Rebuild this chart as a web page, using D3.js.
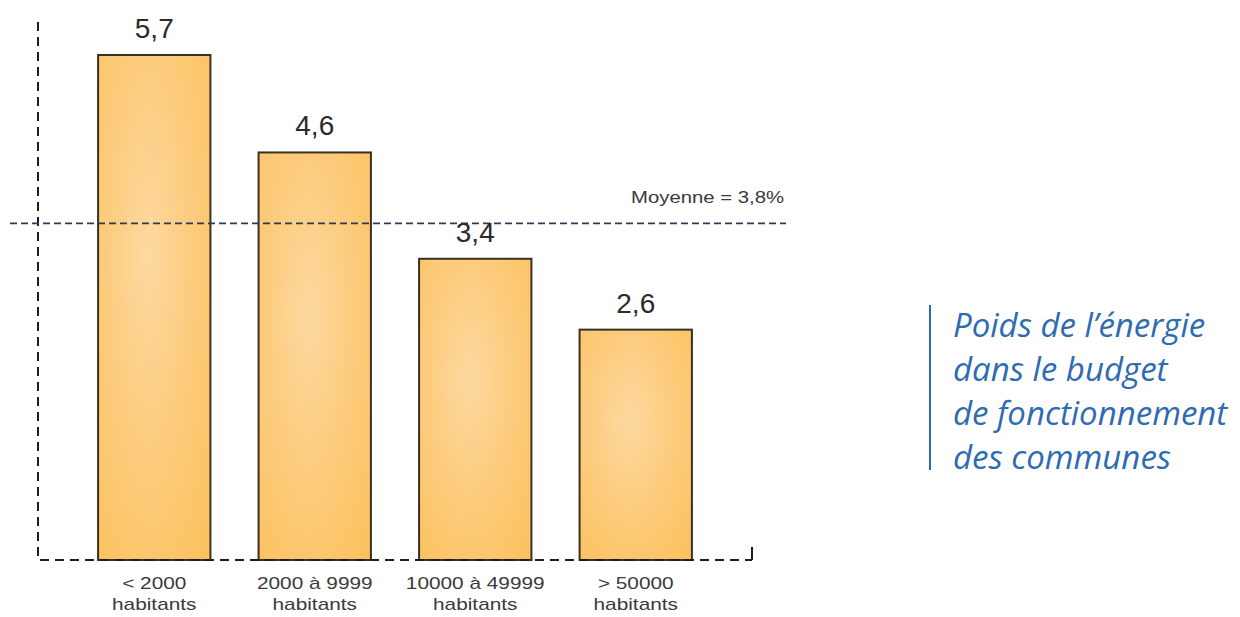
<!DOCTYPE html>
<html>
<head>
<meta charset="utf-8">
<script src="https://cdn.jsdelivr.net/npm/d3@7"></script>
<style>
  html, body { margin: 0; padding: 0; background: #ffffff; }
  svg { display: block; }
</style>
</head>
<body>
<svg id="chart" width="1240" height="617"></svg>
<script>
// Part des dépenses d'énergie dans le budget de fonctionnement, par taille de commune
const categories = ["< 2000", "2000 à 9999", "10000 à 49999", "> 50000"];
const categorySub = ["habitants", "habitants", "habitants", "habitants"];
const values = [5.7, 4.6, 3.4, 2.6];
const valueLabels = ["5,7", "4,6", "3,4", "2,6"];
const average = 3.8;
const averageLabel = "Moyenne = 3,8%";
const titleLines = ["Poids de l\u2019énergie", "dans le budget", "de fonctionnement", "des communes"];

const svg = d3.select("#chart");
const baseY = 560;
const font = "'Liberation Sans', Arial, sans-serif";

const x = d3.scaleBand()
  .domain(categories)
  .range([74, 716])
  .paddingInner(0.3)
  .paddingOuter(0.15);

const y = d3.scaleLinear()
  .domain([0, 5.7])
  .range([baseY, 55]);

// Bar fill: warm orange, a little lighter towards the middle
const defs = svg.append("defs");
const grad = defs.append("radialGradient")
  .attr("id", "barFill")
  .attr("cx", "45%").attr("cy", "40%").attr("r", "80%");
grad.append("stop").attr("offset", "0%").attr("stop-color", "#fdd9a0");
grad.append("stop").attr("offset", "50%").attr("stop-color", "#fccb7c");
grad.append("stop").attr("offset", "100%").attr("stop-color", "#fbc15c");

// Bars
svg.append("g").selectAll("rect")
  .data(values)
  .join("rect")
  .attr("x", (d, i) => x(categories[i]))
  .attr("y", d => y(d))
  .attr("width", x.bandwidth())
  .attr("height", d => baseY - y(d))
  .attr("fill", "url(#barFill)")
  .attr("stroke", "#3b3023")
  .attr("stroke-width", 2);

// Left axis and baseline, dashed
svg.append("path")
  .attr("d", d3.line()([[38, 22], [38, baseY], [752, baseY]]))
  .attr("fill", "none")
  .attr("stroke", "#1e1e1e")
  .attr("stroke-width", 2)
  .attr("stroke-dasharray", "9,6");
svg.append("line")
  .attr("x1", 752).attr("x2", 752)
  .attr("y1", baseY).attr("y2", 547)
  .attr("stroke", "#1e1e1e").attr("stroke-width", 2);

// Average line
svg.append("line")
  .attr("x1", 10).attr("x2", 786)
  .attr("y1", y(average)).attr("y2", y(average))
  .attr("stroke", "#2c3a52")
  .attr("stroke-width", 1.6)
  .attr("stroke-dasharray", "7,4");
svg.append("text")
  .attr("transform", `translate(784,${y(average) - 20}) scale(1.27,1)`)
  .attr("text-anchor", "end")
  .attr("font-family", font)
  .attr("font-size", 16)
  .attr("fill", "#3a3a3a")
  .text(averageLabel);

// Value labels above bars
svg.append("g").selectAll("text")
  .data(values)
  .join("text")
  .attr("x", (d, i) => x(categories[i]) + x.bandwidth() / 2)
  .attr("y", d => y(d) - 17)
  .attr("text-anchor", "middle")
  .attr("font-family", font)
  .attr("font-size", 28)
  .attr("fill", "#2b2b2b")
  .text((d, i) => valueLabels[i]);

// Category labels
const catG = svg.append("g")
  .attr("font-family", font)
  .attr("font-size", 16)
  .attr("fill", "#3a3a3a")
  .attr("text-anchor", "middle");
categories.forEach((c, i) => {
  const cx = x(c) + x.bandwidth() / 2;
  catG.append("text").attr("transform", `translate(${cx},589) scale(1.3,1)`).text(c);
  catG.append("text").attr("transform", `translate(${cx},610) scale(1.3,1)`).text(categorySub[i]);
});

// Side title with blue rule
svg.append("line")
  .attr("x1", 930).attr("x2", 930)
  .attr("y1", 305).attr("y2", 470)
  .attr("stroke", "#2f6aa8")
  .attr("stroke-width", 2);
const tG = svg.append("g")
  .attr("font-family", "'Open Sans', 'Liberation Sans', sans-serif")
  .attr("font-style", "italic")
  .attr("font-size", 33)
  .attr("fill", "#2d6bb2");
titleLines.forEach((t, i) => {
  tG.append("text").attr("x", 953).attr("y", 337 + i * 44).text(t);
});
</script>
</body>
</html>
